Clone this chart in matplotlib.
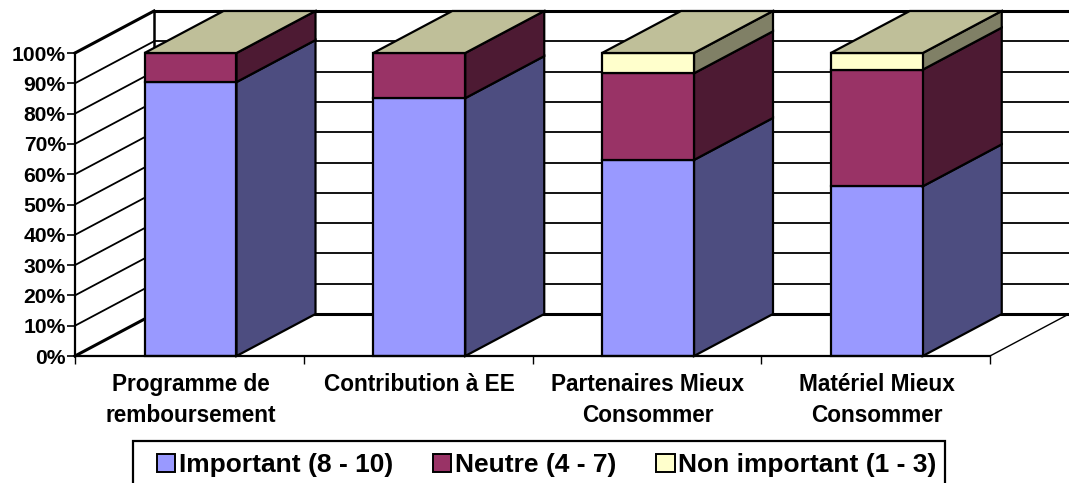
import matplotlib
matplotlib.use("Agg")
import matplotlib.pyplot as plt
from matplotlib.patches import Patch, Polygon, Rectangle
from matplotlib.ticker import PercentFormatter

categories = ["Programme de\nremboursement", "Contribution à EE",
              "Partenaires Mieux\nConsommer", "Matériel Mieux\nConsommer"]
series_names = ["Important (8 - 10)", "Neutre (4 - 7)", "Non important (1 - 3)"]
important = [90.4, 85.1, 64.7, 56.0]
neutre = [9.6, 14.9, 28.6, 38.5]
non_important = [0.0, 0.0, 6.7, 5.5]
yticks = list(range(0, 101, 10))

front_colors = ["#9999FF", "#993366", "#FFFFCC"]
side_colors = ["#4D4D80", "#4D1A33", "#808066"]
top_color = "#BFBF99"

W, H = 1069, 483
L, R, B, T = 75, 990, 356, 53
plt.rcParams["font.family"] = ["Liberation Sans", "DejaVu Sans"]
plt.rcParams["font.weight"] = "bold"
fig = plt.figure(figsize=(W / 100, H / 100), dpi=100, facecolor="white")
ax = fig.add_axes([L / W, 1 - B / H, (R - L) / W, (B - T) / H])
ax.set_xlim(0, 4)
ax.set_ylim(0, 100)
ax.patch.set_visible(False)

DX = 79 / ((R - L) / 4)    # depth offset in category units
DY = 42 / ((B - T) / 100)  # depth offset in percent units
BAR_W = 0.402
CENTER = 0.505


def line(xs, ys, lw=1.4, z=1):
    ax.plot(xs, ys, color="black", lw=lw, clip_on=False, zorder=z,
            solid_capstyle="projecting", solid_joinstyle="miter")


def poly(pts, color, z):
    ax.add_patch(Polygon(pts, closed=True, facecolor=color, edgecolor="black",
                         lw=1.6, clip_on=False, zorder=z, joinstyle="miter"))


xmax_back = 4 + DX
for v in yticks:
    lw = 2.2 if v in (0, 100) else 1.3
    line([0, DX], [v, v + DY], lw=lw)
    line([DX, xmax_back], [v + DY, v + DY], lw=lw)
line([DX, DX], [DY, 100 + DY], lw=1.8)
line([4, 4 + DX], [0, DY], lw=1.0)

for i in range(len(categories)):
    x0 = i + CENTER - BAR_W / 2
    x1 = x0 + BAR_W
    base = 0
    z = 3 + i * 0.1
    tops = [important[i], neutre[i], non_important[i]]
    for j, h in enumerate(tops):
        if h <= 0:
            continue
        top = base + h
        poly([(x1, base), (x1 + DX, base + DY), (x1 + DX, top + DY), (x1, top)],
             side_colors[j], z)
        poly([(x0, base), (x1, base), (x1, top), (x0, top)], front_colors[j], z)
        base = top
    poly([(x0, base), (x1, base), (x1 + DX, base + DY), (x0 + DX, base + DY)],
         top_color, z)

for s in ("top", "right"):
    ax.spines[s].set_visible(False)
for s in ("left", "bottom"):
    ax.spines[s].set_linewidth(1.6)
    ax.spines[s].set_zorder(5)

ax.set_yticks(yticks)
ax.yaxis.set_major_formatter(PercentFormatter(100, decimals=0))
ax.tick_params(axis="y", length=5.5, width=1.2, pad=1, labelsize=15.2)
ax.set_xticks(range(5))
ax.set_xticklabels([])
ax.tick_params(axis="x", which="major", length=6, width=1.0)
ax.set_xticks([i + CENTER for i in range(4)], categories, minor=True)
ax.tick_params(axis="x", which="minor", length=0, pad=12.5, labelsize=16.3)
for t in ax.get_xticklabels(minor=True):
    t.set_linespacing(1.42)

# Legend frame runs off the lower edge of the picture, as in the reference
fig.add_artist(Rectangle((133 / W, -3 / H), (945 - 133) / W, (483 + 3 - 441) / H,
                         transform=fig.transFigure, facecolor="white",
                         edgecolor="black", lw=1.6, zorder=1))
handles = [Patch(facecolor=c, edgecolor="black", lw=1.4) for c in front_colors]
leg = fig.legend(handles, series_names, ncol=3, loc="center left",
                 bbox_to_anchor=(157 / W, 1 - 465 / H), bbox_transform=fig.transFigure,
                 frameon=False, fontsize=19.0, borderaxespad=0, borderpad=0,
                 handlelength=0.7, handleheight=0.7,
                 handletextpad=0.14, columnspacing=1.5)
leg.set_zorder(2)

fig.savefig("out.png", dpi=100)
